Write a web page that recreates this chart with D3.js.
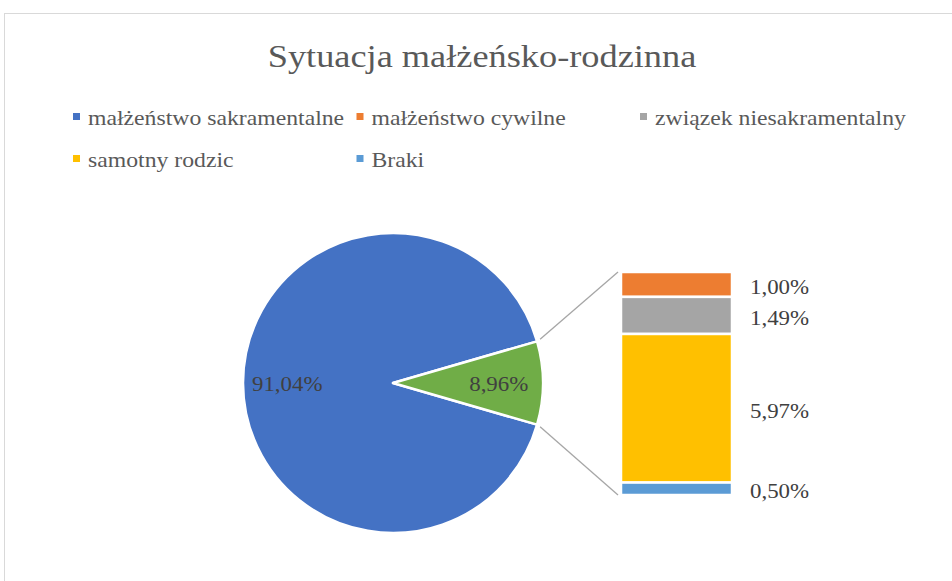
<!DOCTYPE html>
<html>
<head>
<meta charset="UTF-8">
<script src="https://d3js.org/d3.v7.min.js"></script>
<style>
  body { margin: 0; background: #fff; }
  text { font-family: "Liberation Serif", "Times New Roman", serif; }
</style>
</head>
<body>
<script>
    // dane z wykresu
    var categories = ["małżeństwo sakramentalne", "małżeństwo cywilne", "związek niesakramentalny", "samotny rodzic", "Braki"];
    var values = [91.04, 1.00, 1.49, 5.97, 0.50];
    var colors = ["#4472C4", "#ED7D31", "#A5A5A5", "#FFC000", "#5B9BD5"];
    var otherColor = "#70AD47";
    var title = "Sytuacja małżeńsko-rodzinna";

    var width = 952, height = 581;
    var pl = d3.formatLocale({ decimal: ",", thousands: " ", grouping: [3], currency: ["", " zł"] });
    var fmt = function (v) { return pl.format(".2f")(v) + "%"; };

    var svg = d3.select("body").append("svg")
        .attr("width", width)
        .attr("height", height);

    // ramka wykresu
    svg.append("rect")
        .attr("x", 4.5).attr("y", 13.5)
        .attr("width", 960).attr("height", 600)
        .attr("fill", "#fff")
        .attr("stroke", "#d9d9d9");

    // tekst w Excelu jest troche szerszy - rozciagniecie w poziomie
    svg.append("g")
        .attr("transform", "translate(482,67) scale(1.135,1)")
        .append("text")
        .attr("text-anchor", "middle")
        .style("font-size", "32px")
        .style("fill", "#595959")
        .text(title);

    // legenda
    var legend = svg.selectAll(".legend")
        .data(categories)
        .enter().append("g")
        .attr("class", "legend")
        .attr("transform", function (d, i) {
            return "translate(" + [73 + (i % 3) * 283.5, 125 + Math.floor(i / 3) * 42] + ")";
        });
    legend.append("rect")
        .attr("x", 0).attr("y", -12)
        .attr("width", 7).attr("height", 7)
        .attr("fill", function (d, i) { return colors[i]; });
    legend.append("g")
        .attr("transform", "translate(15,0) scale(1.13,1)")
        .append("text")
        .style("font-size", "21px")
        .style("fill", "#595959")
        .text(function (d) { return d; });

    // kolo: glowna kategoria + "inne" (suma reszty)
    var rest = values.slice(1);
    var restSum = d3.sum(rest);
    var pieData = [
        { name: categories[0], value: values[0], color: colors[0] },
        { name: "inne", value: restSum, color: otherColor }
    ];
    var total = values[0] + restSum;
    var start = Math.PI / 2 - 2 * Math.PI * (values[0] + restSum / 2) / total;

    var cx = 393, cy = 383, r = 150;
    var pie = d3.pie().sort(null).value(function (d) { return d.value; })
        .startAngle(start).endAngle(start + 2 * Math.PI);
    var arcs = pie(pieData);
    var arc = d3.arc().innerRadius(0).outerRadius(r);
    var labelArc = d3.arc().innerRadius(r * 0.705).outerRadius(r * 0.705);

    var pg = svg.append("g").attr("transform", "translate(" + cx + "," + cy + ")");
    pg.selectAll("path")
        .data(arcs)
        .enter().append("path")
        .attr("d", arc)
        .attr("fill", function (d) { return d.data.color; })
        .attr("stroke", "#fff")
        .attr("stroke-width", 2.5)
        .attr("stroke-linejoin", "round");
    pg.selectAll(".plabel")
        .data(arcs)
        .enter().append("g")
        .attr("class", "plabel")
        .attr("transform", function (d) { return "translate(" + labelArc.centroid(d) + ") scale(1.04,1)"; })
        .append("text")
        .attr("text-anchor", "middle")
        .attr("dy", "0.35em")
        .style("font-size", "22px")
        .style("fill", "#404040")
        .text(function (d) { return fmt(d.data.value); });

    // slupek z rozbiciem
    var bx = 621, bw = 111;
    var y = d3.scaleLinear().domain([0, restSum]).range([272, 495]);
    var stacked = [], acc = 0;
    rest.forEach(function (v, i) {
        stacked.push({ v: v, y0: acc, y1: acc + v, color: colors[i + 1] });
        acc += v;
    });

    // linie laczace
    var g = arcs[1];
    var lines = [
        [[cx + r * Math.sin(g.startAngle), cy - r * Math.cos(g.startAngle)], [bx - 3, y(0)]],
        [[cx + r * Math.sin(g.endAngle), cy - r * Math.cos(g.endAngle)], [bx - 3, y(restSum)]]
    ];
    svg.selectAll(".conn")
        .data(lines)
        .enter().append("line")
        .attr("class", "conn")
        .attr("x1", function (d) { return d[0][0] + 3; })
        .attr("y1", function (d) { return d[0][1] + (d[0][1] < cy ? -2 : 2); })
        .attr("x2", function (d) { return d[1][0]; })
        .attr("y2", function (d) { return d[1][1]; })
        .attr("stroke", "#a6a6a6")
        .attr("stroke-width", 1.3);

    svg.selectAll(".seg")
        .data(stacked)
        .enter().append("rect")
        .attr("class", "seg")
        .attr("x", bx)
        .attr("y", function (d) { return y(d.y0); })
        .attr("width", bw)
        .attr("height", function (d) { return y(d.y1) - y(d.y0); })
        .attr("fill", function (d) { return d.color; })
        .attr("stroke", "#fff")
        .attr("stroke-width", 2.5);

    svg.selectAll(".blabel")
        .data(stacked)
        .enter().append("g")
        .attr("class", "blabel")
        .attr("transform", function (d) { return "translate(750," + ((y(d.y0) + y(d.y1)) / 2 + 2) + ") scale(1.04,1)"; })
        .append("text")
        .attr("dy", "0.35em")
        .style("font-size", "22px")
        .style("fill", "#404040")
        .text(function (d) { return fmt(d.v); });
</script>
</body>
</html>
